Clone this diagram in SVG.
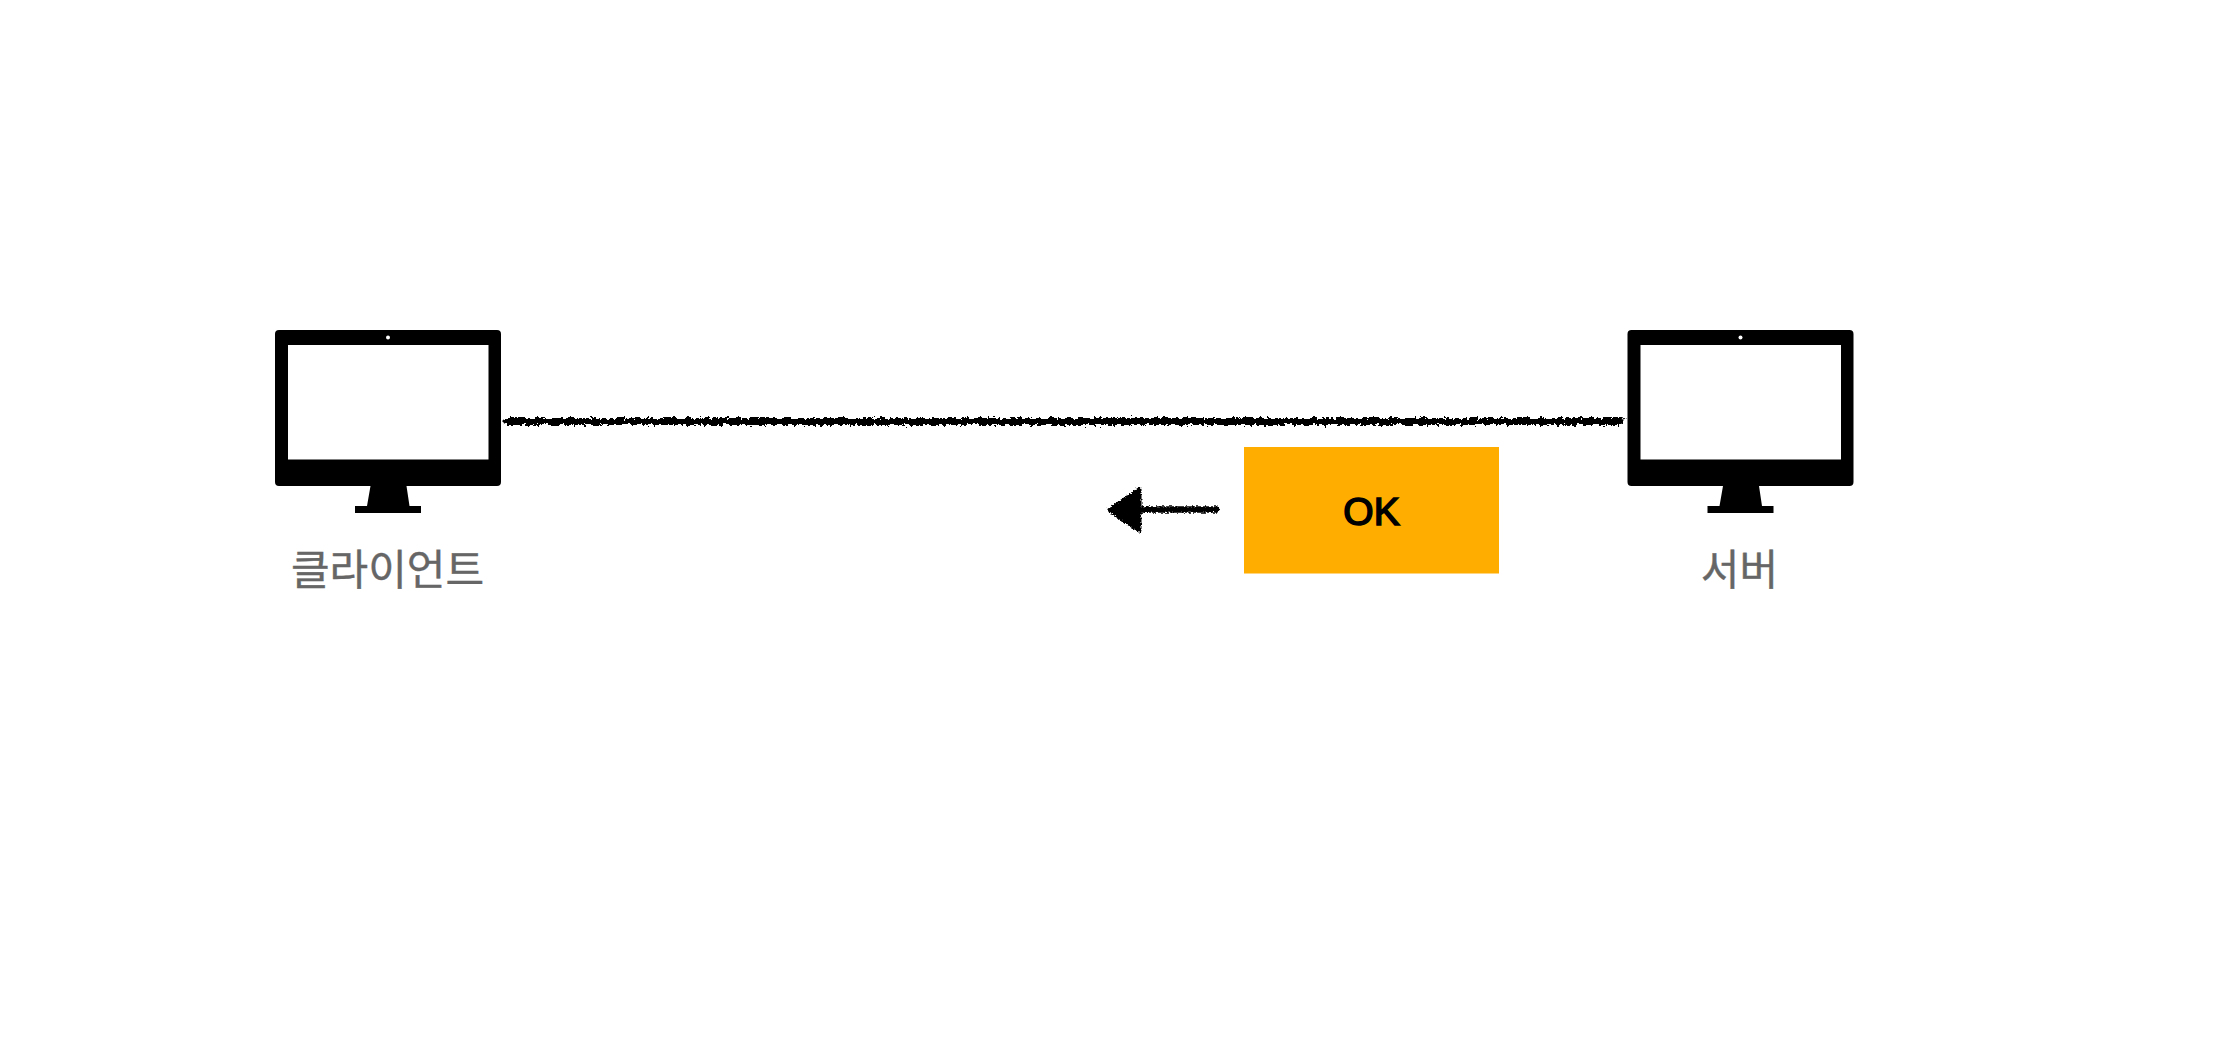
<svg xmlns="http://www.w3.org/2000/svg" width="2216" height="1064" viewBox="0 0 2216 1064">
<style>
.lbl{font-family:"Noto Sans CJK KR","Noto Sans",sans-serif;font-size:42px;fill:#666;stroke:#666;stroke-width:.4px;text-anchor:middle}
.ok{font-family:"Liberation Sans",Arial,sans-serif;font-size:39px;fill:#000;stroke:#000;stroke-width:1.6px;text-anchor:middle}
.rough{stroke:#000;fill:none;stroke-linecap:round;stroke-linejoin:round}
</style>
<defs>
<filter id="sk" filterUnits="userSpaceOnUse" x="480" y="400" width="1170" height="44">
<feTurbulence type="fractalNoise" baseFrequency="0.3" numOctaves="3" seed="4" result="n"/>
<feDisplacementMap in="SourceGraphic" in2="n" scale="8" xChannelSelector="R" yChannelSelector="G"/>
</filter>
<filter id="sk2" filterUnits="userSpaceOnUse" x="1090" y="470" width="140" height="80">
<feTurbulence type="fractalNoise" baseFrequency="0.55" numOctaves="2" seed="9" result="n"/>
<feDisplacementMap in="SourceGraphic" in2="n" scale="5" xChannelSelector="R" yChannelSelector="G"/>
</filter>
<g id="mon">
<path fill="#000" fill-rule="evenodd" d="M279 330H497a4 4 0 0 1 4 4V482a4 4 0 0 1 -4 4H406.500L409.500 506H421V513H355V506H367L370.500 486H279a4 4 0 0 1 -4 -4V334a4 4 0 0 1 4 -4ZM288 345V459.500H488.500V345Z"/>
<circle cx="388" cy="337.500" r="2" fill="#fff"/>
</g>
</defs>
<rect width="2216" height="1064" fill="#fff"/>
<g id="client"><use href="#mon"/><text class="lbl" x="387.500" y="585">클라이언트</text></g>
<g id="server"><use href="#mon" x="1352.500"/><text class="lbl" x="1739.500" y="585">서버</text></g>
<g id="ok"><rect x="1244" y="447" width="255" height="126.500" fill="#FFAE00"/><text class="ok" x="1371.500" y="525">OK</text></g>
<g id="connectors">
<path class="rough" filter="url(#sk)" stroke-width="7" d="M507 421.500H1621"/>
<g filter="url(#sk2)"><path class="rough" stroke-width="6.500" d="M1216 509.500H1142"/><path d="M1110 510L1139 490V530Z" fill="#000" stroke="#000" stroke-width="5" stroke-linejoin="round"/></g>
</g>
</svg>
